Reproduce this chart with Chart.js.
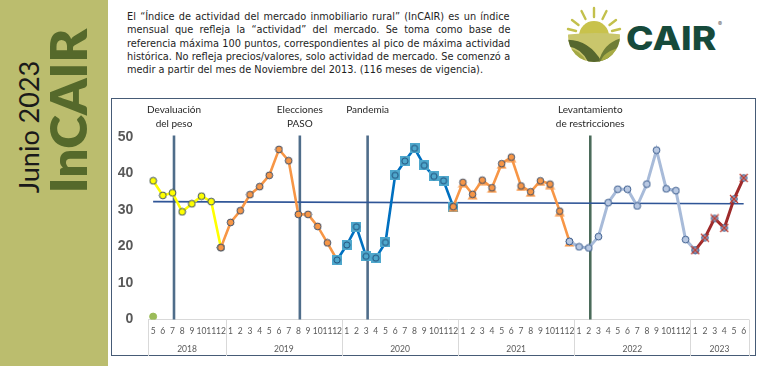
<!DOCTYPE html>
<html><head><meta charset="utf-8">
<script src="https://cdn.jsdelivr.net/npm/chart.js@4"></script>
<style>
html,body{margin:0;padding:0;background:#fff;}
body{width:765px;height:366px;position:relative;overflow:hidden;}
#band{position:absolute;left:0;top:0;width:108px;height:366px;background:#bbbd6e;}
.rot{position:absolute;white-space:nowrap;line-height:1;transform:translate(-50%,-50%) rotate(-90deg);}
#junio{left:29px;top:127px;font-family:Lato,sans-serif;font-weight:400;font-size:26px;color:#1a1a1a;}
#incair{left:68px;top:111px;font-family:Lato,sans-serif;font-weight:800;font-size:58px;color:#55692b;}
#desc{position:absolute;left:127px;top:10px;width:383px;font-family:'DejaVu Sans',sans-serif;font-size:10px;line-height:13.35px;color:#1e1e1e;}
#desc div{white-space:nowrap;}
#cair{position:absolute;left:626px;top:22px;font-family:Inter,sans-serif;font-weight:800;font-size:33px;line-height:33px;color:#164a3b;white-space:nowrap;transform-origin:0 0;}
#reg{position:absolute;left:718px;top:20px;font-family:Inter,sans-serif;font-size:6px;color:#555;}
#box{position:absolute;left:111px;top:98px;width:643px;height:256px;border:1.5px solid #465b76;}
#wrap{position:absolute;left:112px;top:99px;width:644px;height:257px;}
</style></head>
<body>
<div id="band"></div>
<div id="junio" class="rot">Junio 2023</div>
<div id="incair" class="rot">InCAIR</div>
<div id="desc">
<div><span>El “Índice de actividad del mercado inmobiliario rural” (InCAIR) es un índice</span></div>
<div><span>mensual que refleja la “actividad” del mercado. Se toma como base de</span></div>
<div><span>referencia máxima 100 puntos, correspondientes al pico de máxima actividad</span></div>
<div><span>histórica. No refleja precios/valores, solo actividad de mercado. Se comenzó a</span></div>
<div><span>medir a partir del mes de Noviembre del 2013. (116 meses de vigencia).</span></div>
</div>
<svg style="position:absolute;left:564px;top:4px" width="64" height="62" viewBox="0 0 64 62">
  <defs><clipPath id="cc"><circle cx="30" cy="32" r="26"/></clipPath></defs>
  <g stroke="#c3c04c" stroke-width="2.4" stroke-linecap="round">
    <line x1="30" y1="13" x2="30" y2="4"/>
    <line x1="21.5" y1="15" x2="17.5" y2="7"/>
    <line x1="38.5" y1="15" x2="42.5" y2="7"/>
    <line x1="14.5" y1="21" x2="8" y2="16"/>
    <line x1="45.5" y1="21" x2="52" y2="16"/>
    <line x1="12" y1="27" x2="4" y2="25"/>
    <line x1="48" y1="27" x2="56" y2="25"/>
  </g>
  <g clip-path="url(#cc)">
    <circle cx="30" cy="32" r="15" fill="#c8c24c"/>
    <path d="M0 31 Q30 27 64 31 L64 62 L0 62 Z" fill="#c9c66c"/>
    <path d="M0 36 Q26 34 40 62 L26 62 Q18 42 0 42 Z" fill="#56672e"/>
    <path d="M64 33 Q38 36 34 62 L46 62 Q46 42 64 40 Z" fill="#6f7d36"/>
    <path d="M0 44 Q18 44 24 62 L0 62 Z" fill="#a3a844"/>
    <path d="M36 62 Q36 46 64 42 L64 62 Z" fill="#a7ab46"/>
  </g>
</svg>
<div id="cair">CAIR</div>
<div id="reg">®</div>
<div id="box"></div>
<div id="wrap"><canvas id="c" width="644" height="257"></canvas></div>
<script>
// ---------------- DATA ----------------
const monthLabels = ['5','6','7','8','9','10','11','12',
  '1','2','3','4','5','6','7','8','9','10','11','12',
  '1','2','3','4','5','6','7','8','9','10','11','12',
  '1','2','3','4','5','6','7','8','9','10','11','12',
  '1','2','3','4','5','6','7','8','9','10','11','12',
  '1','2','3','4','5','6'];
const yearLabels = ['2018','2019','2020','2021','2022','2023'];
const monthsPerYear = [8,12,12,12,12,6];
const incair = [
  38.0, 34.0, 34.7, 29.5, 31.7, 33.8, 32.3, 19.7,
  26.6, 29.8, 34.2, 36.4, 39.5, 46.6, 43.5, 28.8, 28.8, 25.5, 21.0, 16.3,
  20.4, 25.4, 17.3, 16.8, 21.1, 39.5, 43.4, 46.9, 42.2, 39.2, 38.0, 30.9,
  37.6, 34.3, 38.2, 36.1, 42.7, 44.5, 36.6, 35.0, 38.0, 37.1, 29.7, 21.4,
  19.9, 19.6, 22.7, 32.0, 35.7, 35.7, 31.1, 37.1, 46.4, 35.8, 35.3, 21.9,
  19.0, 22.4, 27.7, 25.1, 33.0, 38.8];
const seriesStart = [0, 7, 19, 31, 43, 56];
const seriesEnd   = [7, 19, 31, 43, 56, 61];
const greenDot = 0.8;
const trendStart = 32.3, trendEnd = 31.7;
const eventMonths = [2, 15, 22, 45];
const eventLabels = [['Devaluación','del peso'],['Elecciones','PASO'],['Pandemia'],['Levantamiento','de restricciones']];
const yMin = 0, yMax = 50, yStep = 10;

// ---------------- STYLE ----------------
const lineColors = ['#ffff00','#f79646','#0070c0','#f79646','#a8bbd9','#9e2a2b'];
const eventColors = ['#4f6d8a','#4f6d8a','#4f6d8a','#4b6b5a'];
function mk(w,h,draw){const c=document.createElement('canvas');c.width=w;c.height=h;draw(c.getContext('2d'));return c;}
function circ(g,cx,cy,r,fill,stroke){g.beginPath();g.arc(cx,cy,r,0,Math.PI*2);g.fillStyle=fill;g.fill();g.lineWidth=1;g.strokeStyle=stroke;g.stroke();}
const markers = [
  mk(9,9,g=>circ(g,4.5,4.5,3.4,'#ffff00','#3c4f6b')),
  mk(9,9,g=>circ(g,4.5,4.5,3.4,'#f79646','#3c4f6b')),
  mk(10,10,g=>{g.fillStyle='#4fa8cd';g.fillRect(0,0,10,10);circ(g,5,5,3.1,'#4fa8cd','#1f4e79');}),
  mk(11,11,g=>{g.beginPath();g.moveTo(5.5,3);g.lineTo(0.5,10.5);g.lineTo(10.5,10.5);g.closePath();g.fillStyle='#f79646';g.fill();circ(g,5.5,5.5,3.3,'#f79646','#3c4f6b');}),
  mk(9,9,g=>circ(g,4.5,4.5,3.4,'#b8c8e2','#3f5f8f')),
  mk(10,10,g=>{circ(g,5,5,3.3,'#9aaccb','#3f5f8f');g.strokeStyle='#c0392b';g.lineWidth=1.2;g.beginPath();g.moveTo(1,1);g.lineTo(9,9);g.moveTo(9,1);g.lineTo(1,9);g.stroke();})
];

const datasets = [];
seriesStart.forEach((s,k)=>{
  datasets.push({
    data: incair.map((v,i)=> (i>=s && i<=seriesEnd[k]) ? v : null),
    borderColor: lineColors[k], borderWidth: k>=4?3:2.6,
    pointStyle: markers[k], pointRadius: 4, pointHoverRadius: 4,
    spanGaps:false, tension:0, order: 10-k, fill:false
  });
});
datasets.push({
  data: incair.map((v,i)=> i===0 ? greenDot : null),
  showLine:false, pointStyle:'circle', pointRadius:3.5, backgroundColor:'#9bbb59', borderColor:'#9bbb59', order:0
});
datasets.push({
  data: incair.map((v,i)=> i===0 ? trendStart : (i===incair.length-1 ? trendEnd : null)),
  borderColor:'#2f5597', borderWidth:1.6, pointRadius:0, spanGaps:true, order:50
});

const decor = {
  id:'decor',
  beforeDatasetsDraw(chart){
    const {ctx, chartArea, scales:{x}} = chart;
    ctx.save();
    eventMonths.forEach((m,k)=>{
      const px = x.getPixelForValue(m)+1.5;
      ctx.strokeStyle = eventColors[k]; ctx.lineWidth = 2.6;
      ctx.beginPath(); ctx.moveTo(px, chartArea.top-1.5); ctx.lineTo(px, chartArea.bottom); ctx.stroke();
    });
    ctx.restore();
  },
  afterDraw(chart){
    const {ctx, chartArea, scales:{x}} = chart;
    ctx.save();
    ctx.font = '10px Lato, sans-serif'; ctx.fillStyle = '#262626';
    ctx.textAlign='center'; ctx.textBaseline='middle';
    eventMonths.forEach((m,k)=>{
      const px = x.getPixelForValue(m)+1.5;
      eventLabels[k].forEach((t,j)=> ctx.fillText(t, px, chartArea.top-27+j*13.5));
    });
    const step = x.getPixelForValue(1)-x.getPixelForValue(0);
    ctx.strokeStyle='#d9d9d9'; ctx.lineWidth=1;
    ctx.font='8.5px Lato, sans-serif'; ctx.fillStyle='#595959';
    let idx=0;
    const bottom = chart.height;
    const b0 = x.getPixelForValue(0)-step/2;
    ctx.beginPath(); ctx.moveTo(Math.round(b0)+0.5, chartArea.bottom); ctx.lineTo(Math.round(b0)+0.5, bottom); ctx.stroke();
    yearLabels.forEach((yl,k)=>{
      const s = idx, e = idx+monthsPerYear[k]-1;
      const l = x.getPixelForValue(s)-step/2, r = x.getPixelForValue(e)+step/2;
      ctx.beginPath(); ctx.moveTo(Math.round(r)+0.5, chartArea.bottom); ctx.lineTo(Math.round(r)+0.5, bottom); ctx.stroke();
      ctx.fillText(yl, (l+r)/2, chartArea.bottom+30);
      idx = e+1;
    });
    ctx.restore();
  }
};

new Chart(document.getElementById('c'), {
  type:'line',
  data:{labels: monthLabels, datasets},
  options:{
    responsive:false, animation:false, devicePixelRatio:1,
    layout:{padding:{top:38, right:7.5, left:0, bottom:0}},
    plugins:{legend:{display:false}, tooltip:{enabled:false}},
    scales:{
      x:{
        type:'category', offset:true,
        grid:{display:false, drawTicks:false},
        border:{display:true, color:'#d9d9d9', width:1},
        ticks:{autoSkip:false, maxRotation:0, minRotation:0, padding:7, color:'#595959', font:{family:'Lato, sans-serif', size:8.5}},
        afterFit(s){ s.height = 36.5; }
      },
      y:{
        min:yMin, max:yMax,
        grid:{display:false, drawTicks:false},
        border:{display:false},
        ticks:{stepSize:yStep, padding:15, color:'#595959', font:{family:'Liberation Sans, Arial, sans-serif', size:14, weight:'bold'}},
        afterFit(s){ s.width = 36.3; }
      }
    }
  },
  plugins:[decor]
});

// ---------------- text fitting ----------------
function fitFont(el, target){ const w = el.offsetWidth; const fs = parseFloat(getComputedStyle(el).fontSize); el.style.fontSize = (fs*target/w)+'px'; }
function fitDesc(){
  const d = document.getElementById('desc');
  const spans = Array.from(d.querySelectorAll('span'));
  spans.forEach(s=>s.style.wordSpacing='0px');
  let fs = parseFloat(getComputedStyle(d).fontSize);
  fs = fs*376/spans[4].offsetWidth; d.style.fontSize = fs+'px';
  const maxW = Math.max.apply(null, spans.slice(0,4).map(s=>s.offsetWidth));
  if (maxW > 381) { fs = fs*381/maxW; d.style.fontSize = fs+'px'; }
  spans.slice(0,4).forEach(s=>{
    const n = (s.textContent.match(/ /g)||[]).length;
    s.style.wordSpacing = ((383 - s.offsetWidth)/n)+'px';
  });
}
function fitAll(){
  fitFont(document.getElementById('junio'), 133);
  fitFont(document.getElementById('incair'), 165);
  fitDesc();
  const c = document.getElementById('cair');
  c.style.transform='none';
  c.style.transform = 'scaleX('+(90/c.offsetWidth)+')';
}
fitAll();
if (document.fonts && document.fonts.ready) document.fonts.ready.then(fitAll);
</script>
</body></html>
